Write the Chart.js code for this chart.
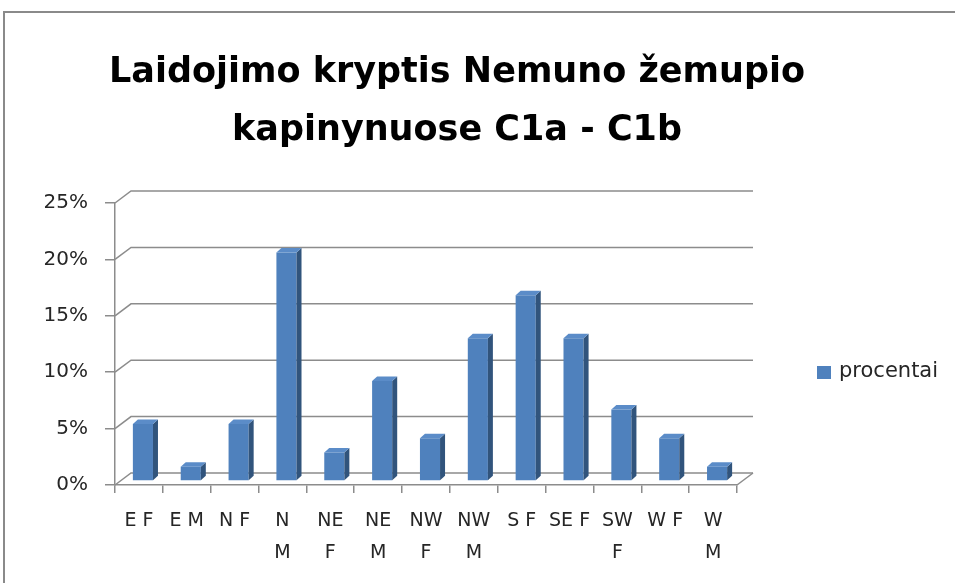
<!DOCTYPE html>
<html>
<head>
<meta charset="utf-8">
<script src="https://cdn.jsdelivr.net/npm/chart.js@4/dist/chart.umd.min.js"></script>
<style>
  html, body { margin: 0; padding: 0; background: #fff; }
  canvas { display: block; }
</style>
</head>
<body>
<canvas id="chart" width="955" height="583"></canvas>
<script>
// Data
const titleLines = ['Laidojimo kryptis Nemuno žemupio', 'kapinynuose C1a - C1b']
const seriesName = 'procentai'
const categories = ['E F', 'E M', 'N F', ['N', 'M'], ['NE', 'F'], ['NE', 'M'], ['NW', 'F'],
  ['NW', 'M'], 'S F', 'SE F', ['SW', 'F'], 'W F', ['W', 'M']]
const procentai = [5.06, 1.27, 5.06, 20.25, 2.53, 8.86, 3.80, 12.66, 16.46, 12.66, 6.33, 3.80, 1.27]
const yMin = 0
const yMax = 25
const yStep = 5

const FONT = '"DejaVu Sans", Verdana, sans-serif'
const TEXT = '#262626'
const AXIS_GRAY = '#8c8c8c'
const BAR_FRONT = '#4f81bd'
const BAR_SIDE = '#31547c'
const BAR_TOP = '#5b8cc8'

// back wall depth and bar depth (3D look of the original)
const WALL = { dx: 16, dy: -12 }
const BAR = { dx: 5, dy: -4.5, shiftX: 4, shiftY: -4 }

const pseudo3d = {
  id: 'pseudo3d',
  beforeDraw(chart) {
    const { ctx } = chart
    ctx.save()
    ctx.fillStyle = '#fff'
    ctx.fillRect(0, 0, chart.width, chart.height)
    // outer chart frame
    ctx.strokeStyle = '#8a8a8a'
    ctx.lineWidth = 2
    ctx.strokeRect(4, 12, chart.width + 10, chart.height + 10)
    ctx.restore()
  },
  beforeDatasetsDraw(chart) {
    const { ctx, chartArea: a, scales: { y } } = chart
    ctx.save()
    ctx.strokeStyle = AXIS_GRAY
    ctx.lineWidth = 1.5
    y.ticks.forEach(t => {
      const py = y.getPixelForValue(t.value)
      ctx.beginPath()
      ctx.moveTo(a.left, py)
      ctx.lineTo(a.left + WALL.dx, py + WALL.dy)
      ctx.lineTo(a.right + WALL.dx, py + WALL.dy)
      ctx.stroke()
    })
    // right edge of the floor
    const py0 = y.getPixelForValue(yMin)
    ctx.beginPath()
    ctx.moveTo(a.right, py0)
    ctx.lineTo(a.right + WALL.dx, py0 + WALL.dy)
    ctx.stroke()
    ctx.restore()
    // bars stand in the middle of the floor depth
    ctx.save()
    ctx.translate(BAR.shiftX, BAR.shiftY)
  },
  afterDatasetsDraw(chart) {
    const { ctx } = chart
    chart.getDatasetMeta(0).data.forEach(bar => {
      const p = bar.getProps(['x', 'y', 'base', 'width'], true)
      const l = p.x - p.width / 2
      const r = p.x + p.width / 2
      ctx.fillStyle = BAR_SIDE
      ctx.beginPath()
      ctx.moveTo(r, p.y)
      ctx.lineTo(r + BAR.dx, p.y + BAR.dy)
      ctx.lineTo(r + BAR.dx, p.base + BAR.dy)
      ctx.lineTo(r, p.base)
      ctx.closePath()
      ctx.fill()
      ctx.fillStyle = BAR_TOP
      ctx.beginPath()
      ctx.moveTo(l, p.y)
      ctx.lineTo(l + BAR.dx, p.y + BAR.dy)
      ctx.lineTo(r + BAR.dx, p.y + BAR.dy)
      ctx.lineTo(r, p.y)
      ctx.closePath()
      ctx.fill()
    })
    ctx.restore()
  },
  afterDraw(chart) {
    const { ctx } = chart
    ctx.save()
    // title
    ctx.fillStyle = '#000'
    ctx.font = 'bold 35px ' + FONT
    ctx.textAlign = 'center'
    ctx.textBaseline = 'alphabetic'
    ctx.fillText(titleLines[0], 457, 82)
    ctx.fillText(titleLines[1], 457, 140)
    // legend
    ctx.fillStyle = BAR_FRONT
    ctx.fillRect(817, 366, 14, 13)
    ctx.fillStyle = TEXT
    ctx.font = '21px ' + FONT
    ctx.textAlign = 'left'
    ctx.textBaseline = 'middle'
    ctx.fillText(seriesName, 839, 372)
    ctx.restore()
  }
}

new Chart(document.getElementById('chart'), {
  type: 'bar',
  data: {
    labels: categories,
    datasets: [{
      label: seriesName,
      data: procentai,
      backgroundColor: BAR_FRONT,
      borderWidth: 0,
      barPercentage: 0.42,
      categoryPercentage: 1,
      clip: false,
    }],
  },
  options: {
    responsive: false,
    animation: false,
    devicePixelRatio: 1,
    layout: { padding: { left: 0, top: 203, right: 218, bottom: 0 } },
    plugins: {
      legend: { display: false },
      title: { display: false },
      tooltip: { enabled: false },
    },
    scales: {
      x: {
        grid: { drawOnChartArea: false, drawTicks: true, tickLength: 8, color: AXIS_GRAY, lineWidth: 1.5 },
        border: { display: true, color: AXIS_GRAY, width: 1.5 },
        ticks: {
          color: TEXT,
          font: { family: FONT, size: 19, lineHeight: 1.7 },
          padding: 12,
          maxRotation: 0,
          autoSkip: false,
        },
        afterFit(s) { s.height = 98 },
      },
      y: {
        min: yMin,
        max: yMax,
        grid: { drawOnChartArea: false, drawTicks: true, tickLength: 10, color: AXIS_GRAY, lineWidth: 1.5 },
        border: { display: true, color: AXIS_GRAY, width: 1.5 },
        ticks: {
          stepSize: yStep,
          color: TEXT,
          font: { family: FONT, size: 20 },
          padding: 17,
          callback: v => v + '%',
        },
        afterFit(s) { s.width = 115 },
      },
    },
  },
  plugins: [pseudo3d],
})
</script>
</body>
</html>
